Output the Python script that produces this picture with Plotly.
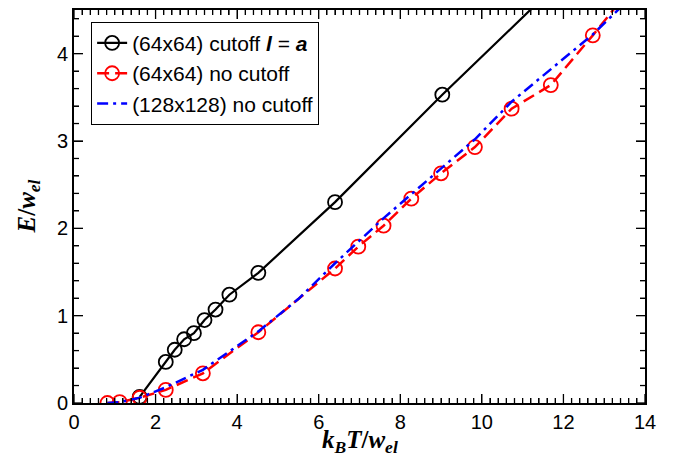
import numpy as np
import plotly.graph_objects as go

# Data
cut_x = [1.61, 2.25, 2.47, 2.70, 2.94, 3.20, 3.47, 3.81, 4.52, 6.40, 9.03, 12.72]
cut_y = [0.07, 0.47, 0.61, 0.73, 0.80, 0.95, 1.07, 1.24, 1.49, 2.30, 3.53, 5.19]

nc64_x = [0.82, 1.12, 1.61, 2.25, 3.16, 4.52, 6.40, 6.97, 7.59, 8.27, 9.00, 9.83, 10.73, 11.69, 12.72, 13.60]
nc64_y = [0.00, 0.01, 0.06, 0.15, 0.34, 0.81, 1.54, 1.79, 2.03, 2.34, 2.63, 2.93, 3.37, 3.64, 4.21, 4.72]

nc128_x = [0.82, 1.12, 1.61, 2.25, 3.16, 4.52, 5.50, 6.40, 7.00, 7.60, 8.27, 9.00, 9.83, 10.73, 11.69, 12.72, 13.60]
nc128_y = [0.00, 0.01, 0.06, 0.18, 0.38, 0.82, 1.19, 1.60, 1.86, 2.12, 2.39, 2.68, 3.02, 3.45, 3.82, 4.22, 4.62]

x_range = [0, 14]
y_range = [0, 4.5]
x_major, x_minor = 2, 0.2
y_major, y_minor = 1, 0.2
x_title = "<b><i>k</i><sub><i>B</i></sub><i>T</i>/<i>w</i><sub><i>el</i></sub></b>"
y_title = "<b><i>E</i>/<i>w</i><sub><i>el</i></sub></b>"

serif = "Liberation Serif"
sans = "Liberation Sans"

fig = go.Figure()

fig.add_trace(go.Scatter(
    x=cut_x, y=cut_y, mode="lines+markers",
    name="(64x64) cutoff <b><i>l</i></b> = <b><i>a</i></b>",
    line=dict(color="black", width=2.2),
    marker=dict(symbol="circle-open", size=14, color="black", line=dict(width=1.8)),
))
fig.add_trace(go.Scatter(
    x=nc64_x, y=nc64_y, mode="lines+markers",
    name="(64x64) no cutoff",
    line=dict(color="#ff0000", width=2.5, dash="12px,6px"),
    marker=dict(symbol="circle-open", size=14, color="#ff0000", line=dict(width=1.8)),
))
fig.add_trace(go.Scatter(
    x=nc128_x, y=nc128_y, mode="lines",
    name="(128x128) no cutoff",
    line=dict(color="#0000ff", width=2.5, dash="11px,5px,3px,5px"),
))

fig.update_xaxes(
    range=x_range, dtick=x_major,
    showline=True, linecolor="black", linewidth=2, mirror="allticks",
    ticks="inside", ticklen=9, tickcolor="black",
    minor=dict(ticks="inside", ticklen=5, dtick=x_minor, tickcolor="black"),
    showgrid=False, zeroline=False,
    tickfont=dict(family=sans, size=20, color="black"),
)
fig.update_yaxes(
    range=y_range, dtick=y_major,
    showline=True, linecolor="black", linewidth=2, mirror="allticks",
    ticks="inside", ticklen=9, tickcolor="black",
    minor=dict(ticks="inside", ticklen=5, dtick=y_minor, tickcolor="black"),
    showgrid=False, zeroline=False,
    tickfont=dict(family=sans, size=20, color="black"),
)

# Tick marks on all four sides, placed by the axes' own data scale (pixel lengths)
x_vals = np.round(np.arange(x_range[0], x_range[1] + 1e-9, x_minor), 6)
y_vals = np.round(np.arange(y_range[0], y_range[1] + 1e-9, y_minor), 6)
for v in x_vals:
    ln = 9 if abs(v / x_major - round(v / x_major)) < 1e-6 else 5
    for anchor, sign in ((0, 1), (1, -1)):
        fig.add_shape(type="line", xref="x", yref="paper", x0=v, x1=v,
                      ysizemode="pixel", yanchor=anchor, y0=0, y1=sign * ln,
                      line=dict(color="black", width=1.3), layer="above")
for v in y_vals:
    ln = 9 if abs(v / y_major - round(v / y_major)) < 1e-6 else 5
    for anchor, sign in ((0, 1), (1, -1)):
        fig.add_shape(type="line", xref="paper", yref="y", y0=v, y1=v,
                      xsizemode="pixel", xanchor=anchor, x0=0, x1=sign * ln,
                      line=dict(color="black", width=1.3), layer="above")

fig.add_annotation(text=x_title, xref="paper", yref="paper", x=0.5, y=0,
                   xanchor="center", yanchor="middle", yshift=-38, showarrow=False,
                   font=dict(family=serif, size=25, color="black"))
fig.add_annotation(text=y_title, xref="paper", yref="paper", x=0, y=0.5,
                   xanchor="center", yanchor="middle", xshift=-46, textangle=-90,
                   showarrow=False, font=dict(family=serif, size=25, color="black"))

# the page body has an 8px default margin, so the figure is sized to fit the window
fig.update_layout(
    width=665, height=460,
    margin=dict(l=66, r=28, t=0, b=65),
    plot_bgcolor="white", paper_bgcolor="white",
    legend=dict(
        x=0.03, y=0.97, xanchor="left", yanchor="top",
        bgcolor="white", bordercolor="black", borderwidth=1,
        font=dict(family=sans, size=21, color="black"),
    ),
    showlegend=True,
)

fig.write_html("out.html")
